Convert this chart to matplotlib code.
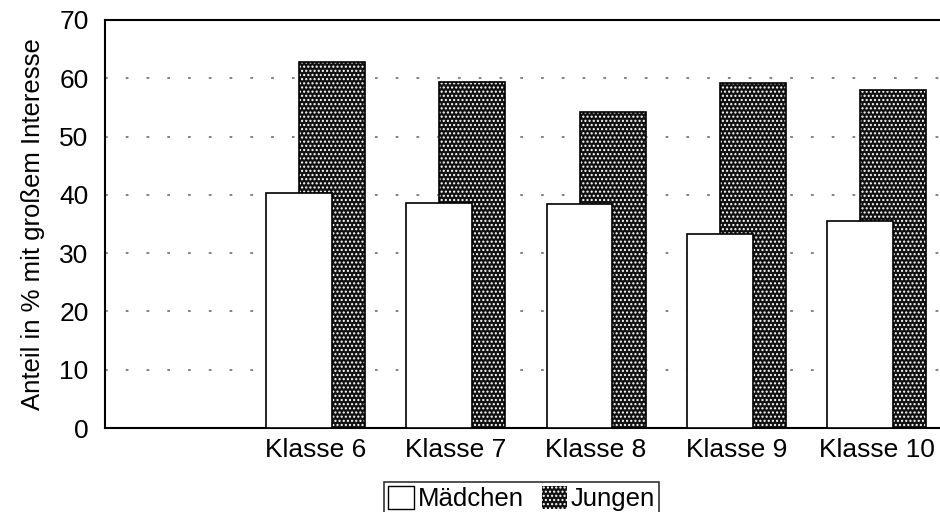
import matplotlib
matplotlib.use("Agg")
import matplotlib.pyplot as plt
import numpy as np
from matplotlib.patches import Patch

plt.rcParams["font.family"] = ["Liberation Sans", "DejaVu Sans"]

categories = ["", "Klasse 6", "Klasse 7", "Klasse 8", "Klasse 9", "Klasse 10"]
maedchen = [0, 40.3, 38.6, 38.4, 33.3, 35.5]
jungen = [0, 62.8, 59.3, 54.2, 59.2, 58.0]

fig = plt.figure(figsize=(9.4, 5.12), dpi=100)
ax = fig.add_axes([0.112, 0.164, 0.895, 0.797])

x = np.arange(len(categories))
w = 0.47
off = 0.118

# Jungen: dark bar with white dot hatch, then black outline
ax.bar(x[1:] + off, jungen[1:], w, color="#111111", edgecolor="white",
       hatch="....", linewidth=0, zorder=2)
ax.bar(x[1:] + off, jungen[1:], w, fill=False, edgecolor="black",
       linewidth=1.2, zorder=3)
# Mädchen drawn on top (overlapping)
ax.bar(x[1:] - off, maedchen[1:], w, color="white", edgecolor="black",
       linewidth=1.2, zorder=4)

ax.set_xlim(-0.5, 5.5)
ax.set_ylim(0, 70)
ax.set_yticks(range(0, 71, 10))
ax.set_xticks(x)
ax.set_xticklabels(categories)
ax.tick_params(axis="both", length=0, labelsize=19, pad=12)
ax.tick_params(axis="x", pad=7)
ax.yaxis.grid(True, linestyle=(0, (1.5, 10)), color="#777777", linewidth=1.3, zorder=0)
ax.set_axisbelow(True)
for s in ["left", "bottom", "top"]:
    ax.spines[s].set_linewidth(1.5)
ax.spines["right"].set_visible(False)

ax.set_ylabel("Anteil in % mit großem Interesse", fontsize=18.5, labelpad=10)

handles = [
    Patch(facecolor="white", edgecolor="black", linewidth=1, label="Mädchen"),
    Patch(facecolor="#111111", edgecolor="white", hatch="....", linewidth=0, label="Jungen"),
]
leg = fig.legend(handles=handles, loc="upper center", bbox_to_anchor=(0.555, 0.058),
                 ncol=2, fontsize=18.5, frameon=True, fancybox=False, edgecolor="black",
                 handlelength=1.0, handleheight=1.0, handletextpad=0.15,
                 columnspacing=0.7, borderpad=0.15, borderaxespad=0)
leg.get_frame().set_linewidth(1.2)

fig.savefig("out.png", dpi=100)
